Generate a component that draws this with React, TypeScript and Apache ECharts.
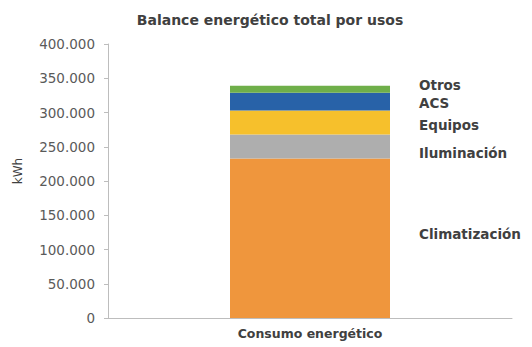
import React, { useEffect, useRef } from "react";
import * as echarts from "echarts";

const categories = ["Consumo energético"];
const seriesNames = ["Climatización", "Iluminación", "Equipos", "ACS", "Otros"];
const seriesValues = [[233000], [35000], [35000], [26000], [10000]];
const seriesColors = ["#EF963D", "#AEAEAE", "#F6C02C", "#2862A8", "#6FAF4A"];
const labelOffsets = [-4, 7, 3, 1, -4];

function fmt(v: number) {
  return String(v).replace(/\B(?=(\d{3})+(?!\d))/g, ".");
}

const FONT = "DejaVu Sans";

export default function App() {
  const ref = useRef<HTMLDivElement>(null);
  useEffect(() => {
    const chart = echarts.init(ref.current!, null, { renderer: "svg" });
    chart.setOption({
      animation: false,
      backgroundColor: "#ffffff",
      title: {
        text: "Balance energético total por usos",
        left: 265,
        textAlign: "center",
        top: 8,
        textStyle: { fontFamily: FONT, fontSize: 14, fontWeight: "bold", color: "#404040" },
      },
      grid: { left: 108, right: 20, top: 44, bottom: 29 },
      xAxis: {
        type: "category",
        data: categories,
        axisLine: { lineStyle: { color: "#BDBDBD" } },
        axisTick: { show: false },
        axisLabel: { fontFamily: FONT, fontSize: 12.5, fontWeight: "bold", color: "#404040", margin: 9 },
      },
      yAxis: {
        type: "value",
        min: 0,
        max: 400000,
        interval: 50000,
        name: "kWh",
        nameLocation: "middle",
        nameGap: 84,
        nameTextStyle: { fontFamily: FONT, fontSize: 12, color: "#404040", padding: [0, 0, 0, 20] },
        axisLine: { show: true, lineStyle: { color: "#BDBDBD" } },
        axisTick: { show: true, length: 4, lineStyle: { color: "#BDBDBD" } },
        splitLine: { show: false },
        axisLabel: {
          fontFamily: FONT,
          fontSize: 13.5,
          color: "#5a5a5a",
          margin: 13,
          formatter: (v: number) => fmt(v),
        },
      },
      series: seriesNames.map((name, i) => ({
        name,
        type: "bar",
        stack: "total",
        barWidth: 160,
        data: seriesValues[i],
        itemStyle: { color: seriesColors[i] },
        label: {
          show: true,
          position: "right",
          distance: 29,
          offset: [0, labelOffsets[i]],
          formatter: name,
          fontFamily: FONT,
          fontSize: 13.5,
          fontWeight: "bold",
          color: "#404040",
        },
      })),
    });
    return () => chart.dispose();
  }, []);
  return <div ref={ref} style={{ width: 532, height: 347, position: "absolute", left: 0, top: 0 }} />;
}
